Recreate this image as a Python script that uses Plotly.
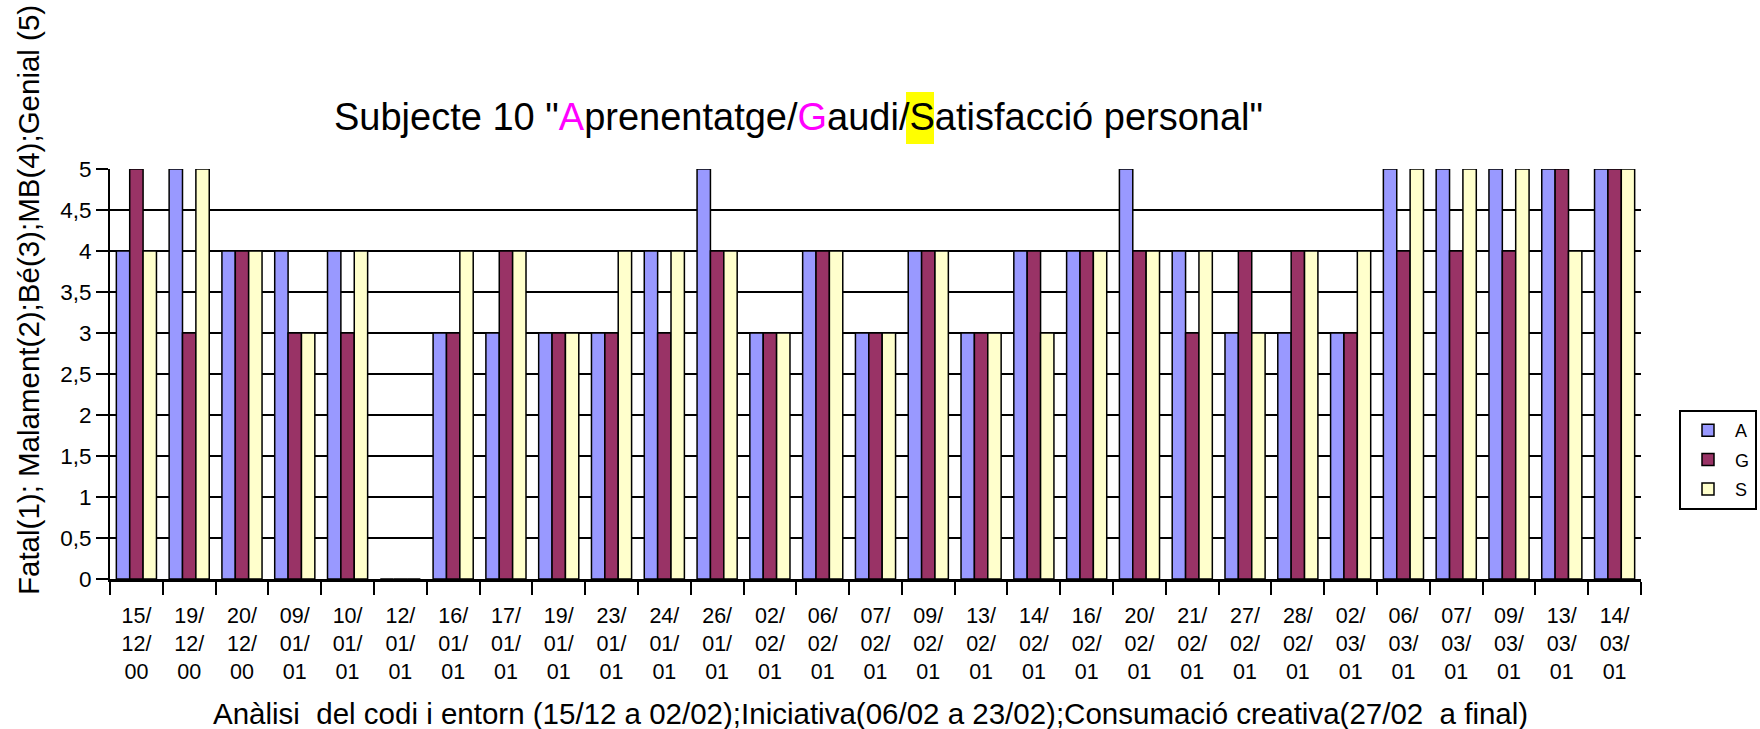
import plotly.graph_objects as go

dates = ["15/12/00", "19/12/00", "20/12/00", "09/01/01", "10/01/01", "12/01/01",
         "16/01/01", "17/01/01", "19/01/01", "23/01/01", "24/01/01", "26/01/01",
         "02/02/01", "06/02/01", "07/02/01", "09/02/01", "13/02/01", "14/02/01",
         "16/02/01", "20/02/01", "21/02/01", "27/02/01", "28/02/01", "02/03/01",
         "06/03/01", "07/03/01", "09/03/01", "13/03/01", "14/03/01"]
A = [4, 5, 4, 4, 4, 0, 3, 3, 3, 3, 4, 5, 3, 4, 3, 4, 3, 4, 4, 5, 4, 3, 3, 3, 5, 5, 5, 5, 5]
G = [5, 3, 4, 3, 3, 0, 3, 4, 3, 3, 3, 4, 3, 4, 3, 4, 3, 4, 4, 4, 3, 4, 4, 3, 4, 4, 4, 5, 5]
S = [4, 5, 4, 3, 4, 0, 4, 4, 3, 4, 4, 4, 3, 4, 3, 4, 3, 3, 4, 4, 4, 3, 4, 4, 5, 5, 5, 4, 5]
y_tickvals = [0, 0.5, 1, 1.5, 2, 2.5, 3, 3.5, 4, 4.5, 5]
y_ticktext = ["0", "0,5", "1", "1,5", "2", "2,5", "3", "3,5", "4", "4,5", "5"]

x_labels = ["<br>".join([d[0:3], d[3:6], d[6:8]]) for d in dates]

FONT = "Arial, Liberation Sans, sans-serif"
W, H = 1760, 729
L, R, T, B = 110, 119, 169, 150
PW = W - L - R
PH = H - T - B

def px_x(p):
    return (p - L) / PW

def px_y(p):
    return (H - B - p) / PH

fig = go.Figure()
for name, vals, col in [("A", A, "#9999FF"), ("G", G, "#993366"), ("S", S, "#FFFFCC")]:
    fig.add_trace(go.Bar(
        x=dates, y=vals, name=name, legendgroup=name,
        marker=dict(color=col, line=dict(color="black", width=1.5)),
    ))

title_font = 38
title_center = 798
title_text = ('Subjecte 10 "<span style="color:#FF00FF">A</span>prenentatge/'
              '<span style="color:#FF00FF">G</span>audi/Satisfacció personal"')

# yellow highlight behind the "S" of Satisfacció
fig.add_shape(type="rect", xref="paper", yref="paper",
              x0=px_x(906), x1=px_x(934), y0=px_y(144), y1=px_y(92),
              fillcolor="#FFFF00", line=dict(width=0), layer="above")

fig.add_annotation(text=title_text, xref="paper", yref="paper",
                   x=px_x(title_center), y=px_y(117), xanchor="center", yanchor="middle",
                   showarrow=False, font=dict(family=FONT, size=title_font, color="black"))

fig.add_annotation(text="Fatal(1); Malament(2);Bé(3);MB(4);Genial (5)",
                   xref="paper", yref="paper", x=px_x(28), y=px_y(300),
                   xanchor="center", yanchor="middle", textangle=-90, showarrow=False,
                   font=dict(family=FONT, size=29.5, color="black"))

fig.add_annotation(text="Anàlisi  del codi i entorn (15/12 a 02/02);Iniciativa(06/02 a 23/02);Consumació creativa(27/02  a final)",
                   xref="paper", yref="paper", x=px_x(870), y=px_y(713),
                   xanchor="center", yanchor="middle", showarrow=False,
                   font=dict(family=FONT, size=29.5, color="black"))

fig.update_layout(
    width=W, height=H,
    margin=dict(l=L, r=R, t=T, b=B, pad=0, autoexpand=False),
    paper_bgcolor="white", plot_bgcolor="white",
    barmode="group", bargap=0.24, bargroupgap=0,
    font=dict(family=FONT, color="black"),
    legend=dict(x=px_x(1679), y=px_y(410), xanchor="left", yanchor="top",
                bgcolor="white", bordercolor="black", borderwidth=2,
                font=dict(family=FONT, size=18, color="black"),
                itemwidth=44, tracegroupgap=3),
    showlegend=True,
)
fig.update_xaxes(
    type="category", tickmode="array", tickvals=dates, ticktext=x_labels,
    tickson="boundaries", ticks="outside", ticklen=13, tickwidth=2, tickcolor="black",
    showline=True, linecolor="black", linewidth=3, showgrid=False,
    tickfont=dict(family=FONT, size=21.5, color="black"), tickangle=0,
    ticklabelstandoff=15, automargin=False,
)
fig.update_yaxes(
    range=[0, 5], tickmode="array", tickvals=y_tickvals, ticktext=y_ticktext,
    ticks="outside", ticklen=12, tickwidth=2, tickcolor="black",
    showline=True, linecolor="black", linewidth=2,
    showgrid=True, gridcolor="black", gridwidth=1.5, zeroline=False,
    tickfont=dict(family=FONT, size=22.5, color="black"), automargin=False,
)

fig.write_html("out.html", config={"displayModeBar": False},
               post_script="document.body.style.margin='0';document.body.style.overflow='hidden';")
